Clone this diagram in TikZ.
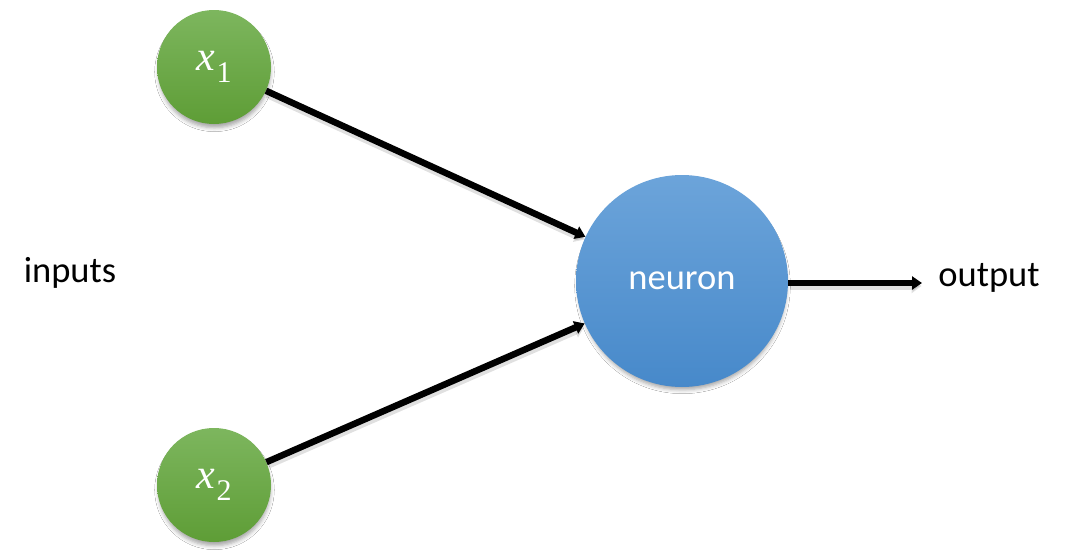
\RequirePackage{fix-cm}
\documentclass[tikz,border=0pt]{standalone}
\usepackage{fontspec}
\setmainfont{Carlito}
\newfontfamily\varfont{Liberation Serif}
\usetikzlibrary{arrows.meta,shadows.blur}
\definecolor{greentop}{HTML}{7DB65E}
\definecolor{greenbot}{HTML}{5E9D36}
\definecolor{bluetop}{HTML}{6CA4DA}
\definecolor{bluebot}{HTML}{4789CA}
% variable name with a numeric subscript
\newcommand{\varsub}[2]{{\varfont\itshape #1}\kern1.5pt\raisebox{-0.27em}{\varfont\fontsize{30}{32}\selectfont #2}}
\tikzset{
  soft shadow/.style={blur shadow={shadow xshift=0.5pt, shadow yshift=-5pt,
      shadow scale=0.98, shadow blur radius=4pt, shadow opacity=35}},
  inputnode/.style={circle, minimum size=114pt, inner sep=0pt,
      top color=greentop, bottom color=greenbot, soft shadow,
      text=white, font=\fontsize{42}{46}\selectfont},
  neuronnode/.style={circle, minimum size=212pt, inner sep=0pt,
      top color=bluetop, bottom color=bluebot, soft shadow,
      text=white, font=\fontsize{36.5}{40}\selectfont},
  label/.style={font=\fontsize{36.5}{40}\selectfont, text=black},
  link/.style={line width=6.5pt, -{Triangle[length=10pt,width=13pt]}, black},
  linkshadow/.style={line width=8pt, -{Triangle[length=10pt,width=14pt]},
      black, opacity=0.12, shorten >=1pt, shorten <=1pt},
}
\begin{document}
\begin{tikzpicture}[x=1pt,y=-1pt]
  \useasboundingbox[fill=white] (0,0) rectangle (1065,554);
  \node[inputnode] (x1) at (214,67) {\varsub{x}{1}};
  \node[inputnode] (x2) at (214,485) {\varsub{x}{2}};
  \node[neuronnode] (n) at (682,281) {neuron};
  \node[label] (in) at (70,273) {inputs};
  \node[label] (out) at (989,278) {output};
  \coordinate (end) at (922,283);
  % soft shadows under the connectors
  \begin{scope}[transform canvas={shift={(0.5pt,-3pt)}}]
    \draw[linkshadow] (x1) -- (n);
    \draw[linkshadow] (x2) -- (n);
    \draw[linkshadow] (n.east |- end) -- (end);
  \end{scope}
  \draw[link] (x1) -- (n);
  \draw[link] (x2) -- (n);
  \draw[link] (n.east |- end) -- (end);
\end{tikzpicture}
\end{document}
